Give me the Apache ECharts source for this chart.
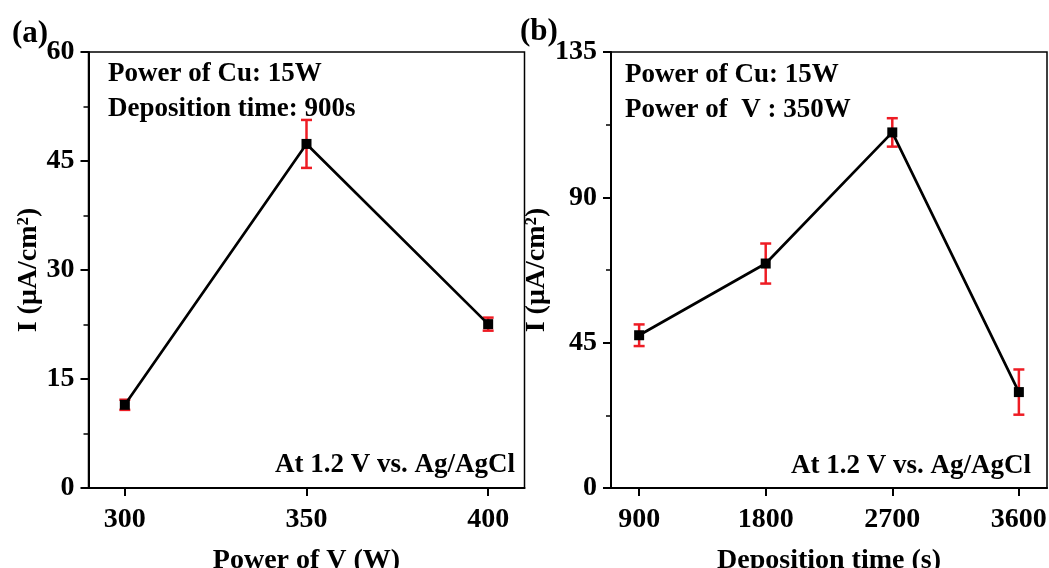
<!DOCTYPE html>
<html><head><meta charset="utf-8">
<script src="https://cdn.jsdelivr.net/npm/echarts@6/dist/echarts.min.js"></script>
<style>html,body{margin:0;padding:0;background:#fff}#c{width:1049px;height:568px}</style>
</head><body><div id="c"></div>
<script>
// Panel (a)
const powerV = [300, 350, 400];
const currentA = [11.45, 47.35, 22.55];
const errA = [0.7, 3.3, 0.9];
const xTicksA = [300, 350, 400];
// Panel (b)
const depTime = [900, 1800, 2700, 3600];
const currentB = [47.3, 69.5, 110.1, 29.7];
const errB = [3.35, 6.2, 4.4, 7.0];
const xTicksB = [900, 1800, 2700, 3600];

const FONT = "'Liberation Serif','Times New Roman',serif";
const RED = '#ee1c24';
const chart = echarts.init(document.getElementById('c'), null, {renderer: 'canvas'});

function errRender(params, api) {
  const x = api.value(0), m = api.value(1), e = api.value(2);
  const t = api.coord([x, m + e]);
  const b = api.coord([x, m - e]);
  const w = 5.5;
  const st = {stroke: RED, lineWidth: 2.5};
  return {type: 'group', children: [
    {type: 'line', shape: {x1: t[0], y1: t[1], x2: b[0], y2: b[1]}, style: st},
    {type: 'line', shape: {x1: t[0] - w, y1: t[1], x2: t[0] + w, y2: t[1]}, style: st},
    {type: 'line', shape: {x1: b[0] - w, y1: b[1], x2: b[0] + w, y2: b[1]}, style: st}
  ]};
}

function xAxis(idx, min, max, ticks, name) {
  return {
    type: 'value', gridIndex: idx, min: min, max: max,
    name: name, nameLocation: 'middle', nameGap: 59,
    nameTextStyle: {fontFamily: FONT, fontWeight: 'bold', fontSize: 28, color: '#000'},
    axisLine: {show: true, onZero: false, lineStyle: {color: '#000', width: 2}},
    axisTick: {show: true, inside: false, length: 8, lineStyle: {color: '#000', width: 2}, customValues: ticks},
    axisLabel: {fontFamily: FONT, fontWeight: 'bold', fontSize: 28, color: '#000', margin: 18,
                customValues: ticks, formatter: v => String(v)},
    splitLine: {show: false}
  };
}
function yAxis(idx, max, interval, gap) {
  return {
    type: 'value', gridIndex: idx, min: 0, max: max, interval: interval,
    name: 'I (μA/cm²)', nameLocation: 'middle', nameGap: gap, nameRotate: 90,
    nameTextStyle: {fontFamily: FONT, fontWeight: 'bold', fontSize: 28, color: '#000'},
    axisLine: {show: true, onZero: false, lineStyle: {color: '#000', width: 2}},
    axisTick: {show: true, inside: false, length: 8, lineStyle: {color: '#000', width: 2}},
    minorTick: {show: true, splitNumber: 2, length: 5, lineStyle: {color: '#000', width: 1.5}},
    axisLabel: {fontFamily: FONT, fontWeight: 'bold', fontSize: 28, color: '#000', margin: 14, formatter: v => String(v)},
    splitLine: {show: false}
  };
}

const pairsA = powerV.map((x, i) => [x, currentA[i], errA[i]]);
const pairsB = depTime.map((x, i) => [x, currentB[i], errB[i]]);

function txt(x, y, s, align, size) {
  return {type: 'text', x: x, y: y, z: 100, style: {text: s, fill: '#000', font: 'bold ' + (size || 27) + 'px ' + FONT, align: align || 'left', verticalAlign: 'middle'}};
}

chart.setOption({
  animation: false,
  backgroundColor: '#fff',
  grid: [
    {left: 88.5, right: 524.5, top: 52, bottom: 80, show: true, borderColor: '#000', borderWidth: 1.5, backgroundColor: 'transparent', outerBoundsMode: 'none', containLabel: false},
    {left: 611, right: 2, top: 52, bottom: 80, show: true, borderColor: '#000', borderWidth: 1.5, backgroundColor: 'transparent', outerBoundsMode: 'none', containLabel: false}
  ],
  xAxis: [xAxis(0, 290, 410, xTicksA, 'Power of V (W)'), xAxis(1, 700, 3800, xTicksB, 'Deposition time (s)')],
  yAxis: [yAxis(0, 60, 15, 46), yAxis(1, 135, 45, 46)],
  series: [
    {type: 'custom', xAxisIndex: 0, yAxisIndex: 0, renderItem: errRender, data: pairsA, encode: {x: 0, y: 1}, z: 1},
    {type: 'line', xAxisIndex: 0, yAxisIndex: 0, data: pairsA.map(p => [p[0], p[1]]), symbol: 'rect', symbolSize: 10,
     itemStyle: {color: '#000'}, lineStyle: {color: '#000', width: 2.7}, z: 3},
    {type: 'custom', xAxisIndex: 1, yAxisIndex: 1, renderItem: errRender, data: pairsB, encode: {x: 0, y: 1}, z: 1},
    {type: 'line', xAxisIndex: 1, yAxisIndex: 1, data: pairsB.map(p => [p[0], p[1]]), symbol: 'rect', symbolSize: 10,
     itemStyle: {color: '#000'}, lineStyle: {color: '#000', width: 2.7}, z: 3}
  ],
  graphic: [
    txt(12, 34, '(a)', 'left', 31),
    txt(520, 32, '(b)', 'left', 31),
    txt(108, 74, 'Power of Cu: 15W'),
    txt(108, 109, 'Deposition time: 900s'),
    txt(515, 465, 'At 1.2 V vs. Ag/AgCl', 'right'),
    txt(625, 75, 'Power of Cu: 15W'),
    txt(625, 110, 'Power of  V : 350W'),
    txt(1031, 466, 'At 1.2 V vs. Ag/AgCl', 'right')
  ]
});
</script></body></html>
